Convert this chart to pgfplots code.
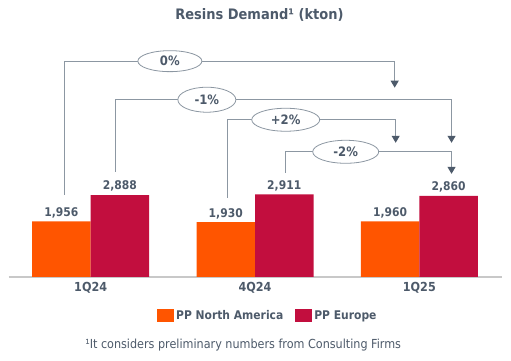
\documentclass[border=0pt]{standalone}
\usepackage{pgfplots}
\pgfplotsset{compat=1.18}
\usepackage{fontspec}
\setmainfont{DejaVu Sans Condensed}
\usetikzlibrary{arrows.meta,shapes.geometric}
\definecolor{naorange}{HTML}{FF5500}
\definecolor{eured}{HTML}{C20E3E}
\definecolor{txt}{HTML}{4D5A6A}
\definecolor{arr}{HTML}{8C97A2}
\definecolor{axl}{HTML}{C8C8C8}
\tikzset{conn/.style={draw=arr, line width=1bp, -{Triangle[width=8bp,length=7bp,color=txt]}},
  pct/.style={ellipse, draw=arr, fill=white, inner sep=0pt, line width=0.8bp,
    font=\bfseries\fontsize{13}{15}\selectfont, text=txt}}
\begin{document}
\begin{tikzpicture}
\useasboundingbox (0,0) rectangle (511bp,361bp);
\begin{axis}[
  at={(8.5bp,84bp)}, anchor=south west,
  scale only axis, width=493bp, height=227bp,
  xmin=-0.5, xmax=2.5, ymin=0, ymax=8000,
  clip=false,
  ybar=0pt, bar width=58.5bp,
  axis x line=bottom, axis y line=none,
  x axis line style={-, draw=axl, line width=1.5bp},
  xtick={0,1,2}, xticklabels={1Q24,4Q24,1Q25},
  xtick style={draw=none},
  xticklabel style={font=\bfseries\fontsize{12.5}{14}\selectfont, text=txt, anchor=north},
  /pgf/number format/1000 sep={,},
  /pgf/number format/assume math mode=true,
  nodes near coords,
  every node near coord/.append style={font=\bfseries\fontsize{12}{14}\selectfont, text=txt},
  legend style={at={(0.526,-0.172)}, anchor=center, draw=none, fill=none,
    legend columns=2, font=\bfseries\fontsize{12}{14}\selectfont, text=txt,
    /tikz/every even column/.append style={column sep=10bp}},
]
\addplot[fill=naorange, draw=none, legend image code/.code={\fill[naorange] (0bp,-6bp) rectangle (17bp,7bp);}]
  coordinates {(0,1956) (1,1930) (2,1960)};
\addlegendentry{PP North America}
\addplot[fill=eured, draw=none, legend image code/.code={\fill[eured] (0bp,-6bp) rectangle (17bp,7bp);}]
  coordinates {(0,2888) (1,2911) (2,2860)};
\addlegendentry{PP Europe}

\coordinate (a1) at (axis cs:-0.16,2900);  \coordinate (b1) at (axis cs:1.85,7607);  \coordinate (c1) at (axis cs:1.85,6672);
\coordinate (a2) at (axis cs:0.154,3707);  \coordinate (b2) at (axis cs:2.196,6248); \coordinate (c2) at (axis cs:2.196,4730);
\coordinate (a3) at (axis cs:0.834,2789);  \coordinate (b3) at (axis cs:1.856,5542); \coordinate (c3) at (axis cs:1.856,4730);
\coordinate (a4) at (axis cs:1.187,3671);  \coordinate (b4) at (axis cs:2.196,4413); \coordinate (c4) at (axis cs:2.196,3636);
\coordinate (o1) at (axis cs:0.482,7607);
\coordinate (o2) at (axis cs:0.707,6248);
\coordinate (o3) at (axis cs:1.187,5542);
\coordinate (o4) at (axis cs:1.552,4413);
\coordinate (tt) at (rel axis cs:0.509,1.154);
\coordinate (ft) at (rel axis cs:0.476,-0.2996);
\end{axis}
\draw[conn] (a1) |- (b1) -- (c1);
\draw[conn] (a2) |- (b2) -- (c2);
\draw[conn] (a3) |- (b3) -- (c3);
\draw[conn] (a4) |- (b4) -- (c4);
\node[pct, minimum width=64bp, minimum height=21bp] at (o1) {0\%};
\node[pct, minimum width=58bp, minimum height=25bp] at (o2) {-1\%};
\node[pct, minimum width=68bp, minimum height=23bp] at (o3) {+2\%};
\node[pct, minimum width=66bp, minimum height=23bp] at (o4) {-2\%};
\node[font=\bfseries\fontsize{14.5}{16}\selectfont, text=txt] at (tt) {Resins Demand¹ (kton)};
\node[font=\fontsize{12.5}{14}\selectfont, text=txt] at (ft) {¹It considers preliminary numbers from Consulting Firms};
\end{tikzpicture}
\end{document}
